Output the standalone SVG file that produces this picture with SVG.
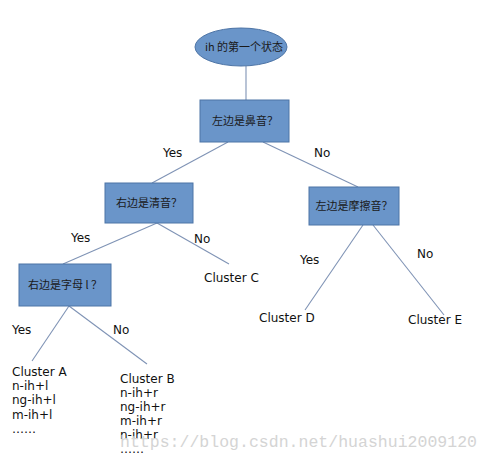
<svg xmlns="http://www.w3.org/2000/svg" width="490" height="461" viewBox="0 0 490 461">
<style>
.node{fill:#6a95c9;stroke:#4d74a6;stroke-width:1}
.nt{font-family:"Noto Sans CJK SC","DejaVu Sans",sans-serif;font-size:11px;fill:#1a1a1a;text-anchor:middle}
.lbl{font-family:"DejaVu Sans","Noto Sans CJK SC",sans-serif;font-size:12px;fill:#111}
.edge{stroke:#7f93b5;stroke-width:1.1;fill:none}
.wm{font-family:"Liberation Mono",monospace;font-size:16.5px;fill:#d4d4d4}
</style>
<rect width="490" height="461" fill="#ffffff"/>
<g id="connectors">
<line class="edge" x1="246" y1="66" x2="246" y2="100"/>
<line class="edge" x1="228" y1="142" x2="152" y2="183"/>
<line class="edge" x1="263" y1="142" x2="358" y2="187"/>
<line class="edge" x1="157" y1="223" x2="63" y2="264"/>
<line class="edge" x1="157" y1="223" x2="229" y2="264"/>
<line class="edge" x1="69" y1="306" x2="32" y2="361"/>
<line class="edge" x1="69" y1="306" x2="147" y2="364"/>
<line class="edge" x1="363" y1="225" x2="305" y2="310"/>
<line class="edge" x1="373" y1="225" x2="444" y2="315"/>
<text class="lbl" x="163" y="157">Yes</text>
<text class="lbl" x="314" y="157">No</text>
<text class="lbl" x="71" y="242">Yes</text>
<text class="lbl" x="194" y="243">No</text>
<text class="lbl" x="12" y="334">Yes</text>
<text class="lbl" x="113" y="334">No</text>
<text class="lbl" x="300" y="264">Yes</text>
<text class="lbl" x="417" y="258">No</text>
</g>
<g id="root">
<ellipse class="node" cx="241" cy="47" rx="46" ry="19"/>
<text class="nt" x="244" y="51">ih 的第一个状态</text>
</g>
<g id="q1">
<rect class="node" x="200" y="100" width="89" height="42"/>
<text class="nt" x="245" y="125">左边是鼻音？</text>
</g>
<g id="q2">
<rect class="node" x="105" y="183" width="88" height="40"/>
<text class="nt" x="149" y="207">右边是清音？</text>
</g>
<g id="q3">
<rect class="node" x="19" y="264" width="92" height="42"/>
<text class="nt" x="65" y="289">右边是字母 l ？</text>
</g>
<g id="q4">
<rect class="node" x="309" y="187" width="90" height="38"/>
<text class="nt" x="354" y="210">左边是摩擦音？</text>
</g>
<g id="clusterA">
<text class="lbl" x="12" y="376">Cluster A</text>
<text class="lbl" x="12" y="390">n-ih+l</text>
<text class="lbl" x="12" y="404">ng-ih+l</text>
<text class="lbl" x="12" y="419">m-ih+l</text>
<text class="lbl" x="12" y="433">……</text>
</g>
<g id="clusterB">
<text class="lbl" x="120" y="383">Cluster B</text>
<text class="lbl" x="120" y="397">n-ih+r</text>
<text class="lbl" x="120" y="411">ng-ih+r</text>
<text class="lbl" x="120" y="425">m-ih+r</text>
<text class="lbl" x="120" y="439">n-ih+r</text>
<text class="lbl" x="120" y="453">……</text>
</g>
<g id="clusterC"><text class="lbl" x="204" y="282">Cluster C</text></g>
<g id="clusterD"><text class="lbl" x="259" y="322">Cluster D</text></g>
<g id="clusterE"><text class="lbl" x="408" y="324">Cluster E</text></g>
<text class="wm" x="120" y="447" textLength="357">https://blog.csdn.net/huashui2009120</text>
</svg>
